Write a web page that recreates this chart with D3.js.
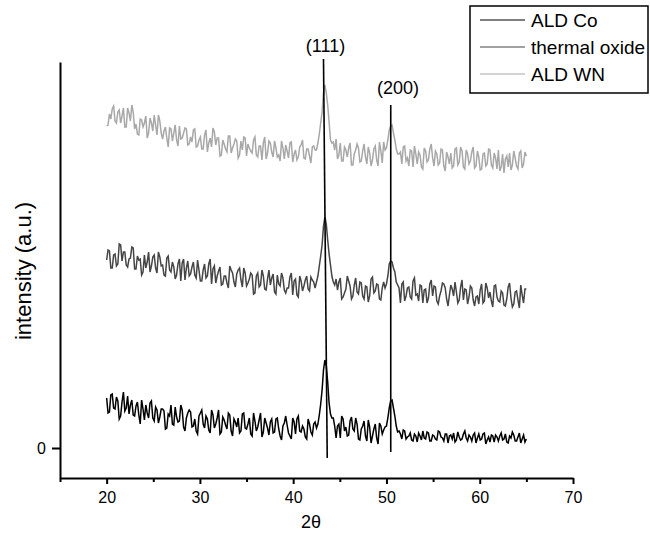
<!DOCTYPE html>
<html>
<head>
<meta charset="utf-8">
<script src="https://cdn.jsdelivr.net/npm/d3@7"></script>
<style>
  body { margin: 0; background: #fff; }
  svg { font-family: "Liberation Sans", Arial, sans-serif; }
</style>
</head>
<body>
<svg id="chart" width="650" height="535"></svg>
<script>
// 2theta sampling of the scans (degrees), 20 -> 65 every 0.15
var twoTheta = d3.range(0, 301).map(function(i) { return +(20 + i * 0.15).toFixed(2); });

// intensities as plotted (arbitrary units, offset per sample)
var aldCo = [
  50,35, 36,53, 54,40, 39,51, 47,29, 32,46, 56,37, 40,52, 34,43, 48,33,
  32,42, 46,33, 24,48, 39,28, 43,35, 30,45, 47,30, 27,41, 38,25, 31,39,
  39,37, 19,20, 34,32, 43,24, 23,41, 31,26, 27,43, 38,21, 17,30, 35,38,
  36,21, 22,29, 17,14, 32,35, 38,24, 20,32, 29,18, 15,38, 33,20, 24,30,
  38,14, 16,31, 28,23, 19,35, 33,17, 12,29, 26,21, 30,15, 17,34, 35,20,
  19,24, 30,14, 12,35, 27,17, 21,28, 35,11, 16,30, 25,20, 13,26, 29,15,
  16,29, 30,19, 12,8, 22,25, 32,23, 15,12, 9,30, 26,14, 29,32, 17,16,
  22,19, 11,9, 29,24, 16,13, 24,26, 20,24, 33,44, 58,78, 88,82, 66,45,
  34,30, 30,22, 10,22, 24,10, 32,29, 17,21, 12,13, 27,31, 19,17, 30,24,
  9,8, 19,22, 27,12, 7,28, 21,5, 12,19, 24,10, 4,25, 22,14, 18,21,
  22,30, 40,47, 48,40, 32,22, 16,17, 14,9, 18,17, 9,11, 12,15, 8,7,
  14,12, 6,15, 12,8, 17,10, 9,16, 15,7, 7,13, 12,9, 8,17, 16,11,
  10,7, 14,14, 5,12, 13,9, 15,6, 8,16, 11,8, 9,14, 17,10, 7,13,
  11,7, 13,15, 5,10, 14,8, 9,14, 15,4, 8,11, 6,13, 12,6, 13,11,
  7,12, 15,8, 9,14, 6,5, 12,10, 16,13, 7,7, 11,15, 5,9, 13,6, 9
];
var thermalOxide = [
  188,198, 197,180, 180,193, 194,182, 184,204, 203,187, 196,196, 183,181, 189,190, 201,200,
  179,179, 192,188, 189,173, 176,193, 180,186, 196,176, 182,191, 193,180, 175,196, 191,182,
  183,173, 172,190, 192,178, 176,186, 181,169, 173,184, 189,167, 185,189, 168,180, 187,172,
  174,181, 186,173, 170,188, 178,167, 167,178, 184,170, 172,184, 189,164, 179,182, 165,172,
  177,181, 163,164, 172,172, 165,160, 182,178, 175,166, 161,174, 178,180, 168,161, 180,175,
  162,165, 169,175, 173,154, 155,172, 175,161, 163,178, 172,159, 158,169, 178,163, 170,174,
  156,154, 173,164, 162,175, 170,158, 155,160, 160,171, 175,153, 167,169, 153,151, 172,167,
  157,162, 168,172, 159,157, 171,168, 166,160, 166,172, 182,192, 203,222, 231,224, 208,194,
  183,172, 166,163, 169,158, 166,170, 149,151, 155,159, 172,167, 162,149, 152,163, 170,156,
  154,166, 165,152, 149,162, 161,146, 152,169, 171,155, 157,164, 163,149, 148,160, 166,160,
  164,172, 184,187, 186,180, 176,166, 163,160, 145,164, 166,147, 152,160, 161,151, 149,167,
  170,153, 154,147, 163,162, 145,158, 159,145, 150,164, 168,152, 162,161, 147,144, 152,157,
  165,164, 160,149, 142,153, 163,159, 152,166, 156,145, 148,161, 168,148, 159,158, 144,151,
  162,160, 148,142, 151,152, 144,158, 164,145, 147,165, 160,150, 156,147, 141,162, 163,151,
  147,146, 157,155, 143,142, 149,161, 165,150, 141,144, 156,157, 148,140, 163,153, 145,159, 159
];
var aldWN = [
  322,323, 334,329, 339,342, 327,325, 336,338, 325,332, 340,321, 321,340, 335,327, 343,336,
  319,324, 314,313, 329,328, 321,325, 332,310, 315,330, 325,317, 333,323, 313,333, 327,315,
  309,317, 321,310, 301,320, 319,307, 315,323, 308,302, 322,309, 310,315, 320,319, 303,304,
  311,306, 318,319, 301,302, 308,311, 299,299, 313,318, 296,305, 310,301, 320,316, 303,310,
  310,292, 293,308, 304,299, 296,312, 312,295, 300,304, 309,307, 290,293, 307,298, 311,310,
  292,304, 300,297, 295,308, 311,293, 291,302, 302,288, 305,311, 289,295, 307,305, 296,291,
  307,300, 291,293, 287,307, 300,289, 303,297, 290,305, 306,286, 294,298, 288,291, 301,303,
  308,290, 289,299, 299,292, 285,301, 302,298, 298,305, 314,325, 336,356, 363,355, 343,326,
  308,305, 306,298, 309,289, 293,305, 287,287, 301,298, 291,300, 305,283, 283,294, 298,304,
  300,286, 287,297, 304,291, 284,301, 295,282, 288,299, 302,288, 282,306, 297,285, 306,298,
  300,308, 318,322, 323,315, 308,299, 294,294, 296,284, 301,302, 287,290, 282,298, 297,281,
  302,294, 284,296, 293,281, 279,300, 297,286, 288,299, 304,290, 282,297, 294,283, 285,299,
  298,282, 277,296, 291,284, 295,280, 282,299, 300,283, 286,301, 297,281, 279,298, 294,284,
  287,296, 301,280, 282,297, 291,278, 279,294, 295,282, 284,299, 298,283, 280,295, 290,279,
  298,277, 281,294, 275,289, 292,281, 295,278, 283,297, 290,282, 279,295, 297,280, 284,296, 292
];

var seriesNames = ["ALD Co", "thermal oxide", "ALD WN"];
var seriesColors = ["#000000", "#454545", "#a8a8a8"];
var seriesData = [aldCo, thermalOxide, aldWN];

// reflection markers
var peakLabels = ["(111)", "(200)"];
var peakTopX = [43.25, 50.46];
var peakBottomX = [43.65, 50.46];
var peakTopI = [389, 343];
var peakBottomI = [-10, -4];
var peakLabelX = [43.47, 51.24];
var peakLabelI = [396, 354];

var xMajor = [20, 30, 40, 50, 60, 70];
var xMinor = [15, 25, 35, 45, 55, 65];
var yTicks = [0];

var svg = d3.select("#chart");

var x = d3.scaleLinear().domain([15, 70]).range([60, 573]);
var y = d3.scaleLinear().domain([-30, 386]).range([478, 62]);

// traces
var line = d3.line()
    .x(function(d, i) { return x(twoTheta[i]); })
    .y(function(d) { return y(d); });

// draw light first so black ends on top
for (var s = seriesData.length - 1; s >= 0; s--) {
    svg.append("path")
        .attr("d", line(seriesData[s]))
        .style("fill", "none")
        .style("stroke", seriesColors[s])
        .style("stroke-width", 1.5);
}

// peak marker lines + labels
for (var p = 0; p < peakLabels.length; p++) {
    svg.append("line")
        .attr("x1", x(peakTopX[p])).attr("y1", y(peakTopI[p]))
        .attr("x2", x(peakBottomX[p])).attr("y2", y(peakBottomI[p]))
        .style("stroke", "#000")
        .style("stroke-width", 1.6);
    svg.append("text")
        .attr("x", x(peakLabelX[p]))
        .attr("y", y(peakLabelI[p]))
        .attr("text-anchor", "middle")
        .style("font-size", "18px")
        .text(peakLabels[p]);
}

// axes
svg.append("g")
    .attr("transform", "translate(0,478)")
    .call(d3.axisBottom(x).tickValues(xMajor).tickSize(6).tickPadding(8).tickSizeOuter(0));
svg.append("g")
    .attr("transform", "translate(0,478)")
    .call(d3.axisBottom(x).tickValues(xMinor).tickSize(4).tickFormat("").tickSizeOuter(0))
    .select(".domain").remove();
svg.append("g")
    .attr("transform", "translate(60,0)")
    .call(d3.axisLeft(y).tickValues(yTicks).tickSize(8).tickPadding(6).tickSizeOuter(0));

svg.selectAll(".domain").style("stroke", "#000").style("stroke-width", 2);
svg.selectAll(".tick line").style("stroke", "#000").style("stroke-width", 2);
svg.selectAll(".tick text")
    .style("font-family", "'Liberation Sans', Arial, sans-serif")
    .style("font-size", "16px")
    .style("fill", "#000");

// axis titles
svg.append("text")
    .attr("x", 311).attr("y", 528)
    .attr("text-anchor", "middle")
    .style("font-size", "18px")
    .text("2\u03b8");
svg.append("text")
    .attr("transform", "translate(31,271) rotate(-90)")
    .attr("text-anchor", "middle")
    .style("font-size", "22px")
    .text("intensity (a.u.)");

// legend
var legend = svg.append("g");
legend.append("rect")
    .attr("x", 470).attr("y", 6)
    .attr("width", 178).attr("height", 87)
    .style("fill", "#fff")
    .style("stroke", "#000")
    .style("stroke-width", 1.5);
seriesNames.forEach(function(name, i) {
    var ly = 20 + i * 27;
    legend.append("line")
        .attr("x1", 480).attr("x2", 525)
        .attr("y1", ly).attr("y2", ly)
        .style("stroke", seriesColors[i])
        .style("stroke-width", 1.2);
    legend.append("text")
        .attr("x", 531).attr("y", ly + 7)
        .style("font-size", "19px")
        .text(name);
});
</script>
</body>
</html>
